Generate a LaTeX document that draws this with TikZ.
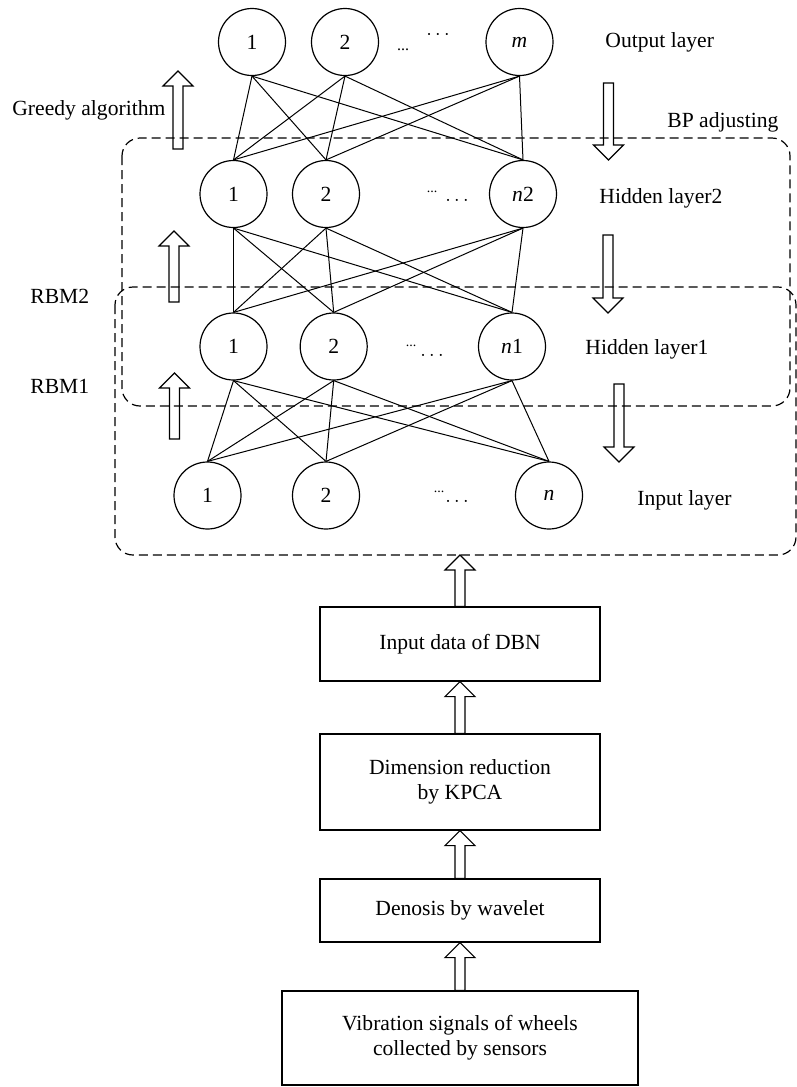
\documentclass[tikz,border=0pt]{standalone}
\usepackage{fontspec}
\setmainfont{Liberation Serif}
\usepackage{tikz}
\usetikzlibrary{calc}
\tikzset{
  neuron/.style={draw, circle, line width=0.6pt, minimum size=33.5pt, inner sep=0pt, font=\fontsize{10.8}{13}\selectfont},
  wire/.style={draw, line width=0.5pt},
  group/.style={draw, dash pattern=on 4.5pt off 2.5pt, line width=0.6pt, rounded corners=9pt},
  stage/.style={draw, rectangle, line width=0.6pt, minimum width=140pt, align=center, inner sep=0pt, font=\fontsize{10.8}{12.5}\selectfont},
  blk/.style={draw, line width=0.6pt, line join=miter},
  lab/.style={anchor=base west, inner sep=0pt, font=\fontsize{10.8}{13}\selectfont},
  gap/.style={inner sep=0pt}
}
% hollow block arrows: #1 = tail, #2 = tip
\newcommand\blkup[2]{\draw[blk] ($(#1)+(-5,0)$) -- ($(#2)+(-5,15)$) -- ($(#2)+(-15,15)$) -- (#2) -- ($(#2)+(15,15)$) -- ($(#2)+(5,15)$) -- ($(#1)+(5,0)$) -- cycle;}
\newcommand\blkdown[2]{\draw[blk] ($(#1)+(-5,0)$) -- ($(#2)+(-5,-15)$) -- ($(#2)+(-15,-15)$) -- (#2) -- ($(#2)+(15,-15)$) -- ($(#2)+(5,-15)$) -- ($(#1)+(5,0)$) -- cycle;}
\begin{document}
\begin{tikzpicture}[x=0.5pt,y=-0.5pt]
  \useasboundingbox (0,0) rectangle (797,1087);
  % output layer
  \node[neuron] (o1) at (252,42) {1};
  \node[neuron] (o2) at (345,42) {2};
  \node[neuron] (om) at (519.5,42) {\textit{m}};
  \node[gap, font=\footnotesize] at (403,50) {...};
  \node[gap] at (438,35) {$\cdots$};
  % hidden layer 2
  \node[neuron] (a1) at (233.5,194) {1};
  \node[neuron] (a2) at (326,194) {2};
  \node[neuron] (an) at (523,194) {\textit{n}2};
  \node[gap, font=\scriptsize] at (432,192) {...};
  \node[gap] at (457,200) {$\ldots$};
  % hidden layer 1
  \node[neuron] (b1) at (233.5,346.5) {1};
  \node[neuron] (b2) at (333.7,346.5) {2};
  \node[neuron] (bn) at (512,346.5) {\textit{n}1};
  \node[gap, font=\scriptsize] at (411,346) {...};
  \node[gap] at (432,355) {$\ldots$};
  % input layer
  \node[neuron] (c1) at (207.5,495.5) {1};
  \node[neuron] (c2) at (326,495.5) {2};
  \node[neuron] (cn) at (549,495.5) {\textit{n}};
  \node[gap, font=\scriptsize] at (439,492) {...};
  \node[gap] at (457,501) {$\ldots$};
  % full connections between layers
  \foreach \u in {o1,o2,om} \foreach \v in {a1,a2,an} \draw[wire] (\u.south) -- (\v.north);
  \foreach \u in {a1,a2,an} \foreach \v in {b1,b2,bn} \draw[wire] (\u.south) -- (\v.north);
  \foreach \u in {b1,b2,bn} \foreach \v in {c1,c2,cn} \draw[wire] (\u.south) -- (\v.north);
  % RBM groups
  \draw[group] (122,138) rectangle (790,406);
  \draw[group] (115,287) rectangle (796,555);
  % layer labels
  \node[lab] (tout) at (605,47) {Output layer};
  \node[lab] (thid2) at (599,203) {Hidden layer2};
  \node[lab] (thid1) at (585,354) {Hidden layer1};
  \node[lab] (tin) at (637,505) {Input layer};
  \node[lab] (tgreedy) at (12,115) {Greedy algorithm};
  \node[lab] (tbp) at (667,127) {BP adjusting};
  \node[lab] (trbm2) at (30,303) {RBM2};
  \node[lab] (trbm1) at (30,393) {RBM1};
  % training direction arrows
  \coordinate (g0) at (178,149);   \coordinate (g1) at (178,71);
  \coordinate (r2a) at (174,302);  \coordinate (r2b) at (174,231);
  \coordinate (r1a) at (174.5,439); \coordinate (r1b) at (174.5,373);
  \coordinate (bp0) at (608.5,83); \coordinate (bp1) at (608.5,160);
  \coordinate (d2a) at (608,235);  \coordinate (d2b) at (608,313);
  \coordinate (d3a) at (619,384);  \coordinate (d3b) at (619,462);
  \blkup{g0}{g1}
  \blkup{r2a}{r2b}
  \blkup{r1a}{r1b}
  \blkdown{bp0}{bp1}
  \blkdown{d2a}{d2b}
  \blkdown{d3a}{d3b}
  % preprocessing chain
  \node[stage, minimum height=37pt] (inp) at (460,644) {Input data of DBN};
  \node[stage, minimum height=48pt] (dim) at (460,782) {Dimension reduction\\by KPCA};
  \node[stage, minimum height=31.5pt] (den) at (460,910.5) {Denosis by wavelet};
  \node[stage, minimum height=47pt, minimum width=178pt] (vib) at (460,1038) {Vibration signals of wheels\\collected by sensors};
  \coordinate (feed) at (460,555);
  \blkup{inp.north}{feed}
  \blkup{dim.north}{inp.south}
  \blkup{den.north}{dim.south}
  \blkup{vib.north}{den.south}
\end{tikzpicture}
\end{document}
